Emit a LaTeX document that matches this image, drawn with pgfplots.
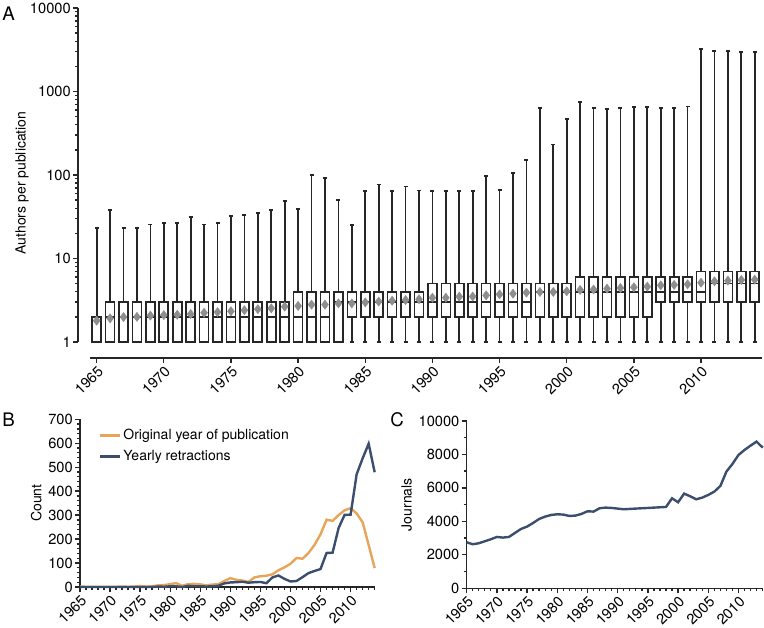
\documentclass[border=0pt]{standalone}
\usepackage{pgfplots}
\pgfplotsset{compat=1.18}
\usepgfplotslibrary{statistics}
\usepackage{fontspec}
\setmainfont{TeX Gyre Heros}
\definecolor{orig}{HTML}{E8A55A}
\definecolor{retr}{HTML}{3C4E6E}
\definecolor{ink}{HTML}{262626}
\definecolor{meangray}{HTML}{8E8E8E}
\pgfplotsset{
  every axis/.append style={
    scale only axis,
    tick align=outside,
    major tick length=3.75pt,
    minor tick length=2.2pt,
    tick style={ink, line width=1pt},
    tick label style={font=\fontsize{11}{13}\selectfont},
    label style={font=\fontsize{10.5}{12}\selectfont},
    /pgf/number format/assume math mode=true,
    /pgf/number format/1000 sep={},
    xticklabel style={rotate=45, anchor=north east, inner sep=1pt},
    yticklabel style={inner sep=1.5pt},
  },
  boxst/.style={draw=ink, fill=white, line width=1.25pt, solid,
    boxplot/draw direction=y, boxplot/box extend=0.67, boxplot/whisker extend=0.3},
}
\newcommand{\bx}[5]{\addplot[boxst, boxplot prepared={draw position=#1, lower whisker=1, lower quartile=#2, median=#3, upper quartile=#4, upper whisker=#5}] coordinates {};}
\begin{document}
\begin{tikzpicture}
\useasboundingbox (0,0) rectangle (573pt,471pt);
% ---------------- Panel A ----------------
\begin{axis}[
  at={(58.5pt,202.5pt)}, anchor=south west,
  width=513pt, height=262.5pt,
  ymode=log,
  xmin=1963.61, xmax=2014.54, ymin=0.643, ymax=10000,
  axis x line*=bottom, axis y line*=left, axis line style={draw=none},
  xtick={1965,1970,1975,1980,1985,1990,1995,2000,2005,2010},
  ytick={1,10,100,1000,10000},
  minor ytick={2,3,4,5,6,7,8,9,20,30,40,50,60,70,80,90,200,300,400,500,600,700,800,900,2000,3000,4000,5000,6000,7000,8000,9000},
  log ticks with fixed point,
  ylabel={Authors per publication},
  ylabel shift=-4pt,
  clip=false,
]
\bx{1965}{1}{2}{2}{23}
\bx{1966}{1}{2}{3}{38}
\bx{1967}{1}{2}{3}{23}
\bx{1968}{1}{2}{3}{23}
\bx{1969}{1}{2}{3}{25.5}
\bx{1970}{1}{2}{3}{26.5}
\bx{1971}{1}{2}{3}{26.5}
\bx{1972}{1}{2}{3}{31.5}
\bx{1973}{1}{2}{3}{25.5}
\bx{1974}{1}{2}{3}{26.5}
\bx{1975}{1}{2}{3}{32}
\bx{1976}{1}{2}{3}{33}
\bx{1977}{1}{2}{3}{35}
\bx{1978}{1}{2}{3}{38}
\bx{1979}{1}{2}{3}{49}
\bx{1980}{1}{2}{4}{39}
\bx{1981}{1}{2}{4}{100}
\bx{1982}{1}{2}{4}{92}
\bx{1983}{1}{3}{4}{50}
\bx{1984}{2}{3}{4}{25}
\bx{1985}{2}{3}{4}{64}
\bx{1986}{2}{3}{4}{77}
\bx{1987}{2}{3}{4}{64}
\bx{1988}{2}{3}{4}{73}
\bx{1989}{2}{3}{4}{65}
\bx{1990}{2}{3}{5}{64}
\bx{1991}{2}{3}{5}{64}
\bx{1992}{2}{3}{5}{64}
\bx{1993}{2}{3}{5}{64}
\bx{1994}{2}{3}{5}{98}
\bx{1995}{2}{3}{5}{66}
\bx{1996}{2}{3}{5}{105}
\bx{1997}{2}{3}{5}{150}
\bx{1998}{2}{4}{5}{637}
\bx{1999}{2}{4}{5}{231}
\bx{2000}{2}{4}{5}{470}
\bx{2001}{2}{4}{6}{752}
\bx{2002}{2}{4}{6}{631}
\bx{2003}{2}{4}{6}{620}
\bx{2004}{2}{4}{6}{631}
\bx{2005}{2}{4}{6}{655}
\bx{2006}{2}{4}{6}{648}
\bx{2007}{3}{4}{6}{637}
\bx{2008}{3}{4}{6}{631}
\bx{2009}{3}{4}{6}{661}
\bx{2010}{3}{4}{7}{3221}
\bx{2011}{3}{5}{7}{3076}
\bx{2012}{3}{5}{7}{3076}
\bx{2013}{3}{5}{7}{2992}
\bx{2014}{3}{5}{7}{2992}
\addplot[only marks, mark=diamond*, mark size=3.4pt, color=meangray] table {
x y
1965 1.8
1966 1.92
1967 1.99
1968 2.0
1969 2.07
1970 2.1
1971 2.12
1972 2.16
1973 2.24
1974 2.28
1975 2.33
1976 2.4
1977 2.47
1978 2.53
1979 2.65
1980 2.7
1981 2.8
1982 2.8
1983 2.9
1984 2.9
1985 2.98
1986 3.05
1987 3.12
1988 3.18
1989 3.25
1990 3.39
1991 3.39
1992 3.49
1993 3.5
1994 3.62
1995 3.72
1996 3.79
1997 3.9
1998 3.97
1999 3.97
2000 4.05
2001 4.2
2002 4.25
2003 4.35
2004 4.43
2005 4.52
2006 4.6
2007 4.77
2008 4.82
2009 4.91
2010 5.13
2011 5.33
2012 5.43
2013 5.53
2014 5.58
};
\draw[ink, line width=1.1pt] (rel axis cs:0,0.0457) -- (rel axis cs:0,1);
\draw[ink, line width=1.1pt] (rel axis cs:0.0175,0) -- (rel axis cs:1,0);
\end{axis}
% ---------------- Panel B ----------------
\begin{axis}[
  at={(60pt,30.75pt)}, anchor=south west,
  width=221pt, height=125.8pt,
  xmin=1965, xmax=2014, ymin=0, ymax=700,
  axis x line*=bottom, axis y line*=left, axis line style={-, ink, line width=1.1pt},
  xtick={1965,1970,1975,1980,1985,1990,1995,2000,2005,2010},
  minor xtick={1966,1967,...,2014},
  ytick={0,100,200,300,400,500,600,700}, minor y tick num=4,
  ylabel={Count},
  clip=false,
  legend style={at={(0.05,0.97)}, anchor=north west, draw=none, fill=none,
    font=\fontsize{10.5}{12}\selectfont, row sep=3.5pt, nodes={inner sep=1.5pt}},
  legend cell align=left,
  legend image code/.code={\draw[#1] (0pt,0pt) -- (15pt,0pt);},
]
\addplot[orig, line width=1.8pt] table {
x y
1965 2
1966 1
1967 1
1968 1
1969 1
1970 1
1971 1
1972 2
1973 1
1974 2
1975 4
1976 2
1977 3
1978 7
1979 8
1980 12
1981 16
1982 5
1983 12
1984 13
1985 11
1986 7
1987 10
1988 12
1989 25
1990 37
1991 30
1992 27
1993 21
1994 40
1995 45
1996 47
1997 53
1998 70
1999 82
2000 97
2001 121
2002 118
2003 142
2004 176
2005 220
2006 281
2007 276
2008 300
2009 320
2010 329
2011 307
2012 270
2013 175
2014 79
};
\addlegendentry{Original year of publication}
\addplot[retr, line width=1.8pt] table {
x y
1965 0
1966 0
1967 0
1968 0
1969 0
1970 0
1971 0
1972 0
1973 0
1974 0
1975 0
1976 0
1977 0
1978 2
1979 1
1980 3
1981 3
1982 0
1983 5
1984 3
1985 3
1986 2
1987 3
1988 5
1989 15
1990 19
1991 20
1992 22
1993 18
1994 20
1995 21
1996 16
1997 40
1998 48
1999 34
2000 23
2001 25
2002 41
2003 58
2004 67
2005 75
2006 142
2007 143
2008 246
2009 301
2010 302
2011 470
2012 537
2013 598
2014 479
};
\addlegendentry{Yearly retractions}
\end{axis}
% ---------------- Panel C ----------------
\begin{axis}[
  at={(350pt,29.8pt)}, anchor=south west,
  width=222pt, height=125.5pt,
  xmin=1965, xmax=2014, ymin=0, ymax=10000,
  axis x line*=bottom, axis y line*=left, axis line style={-, ink, line width=1.1pt},
  xtick={1965,1970,1975,1980,1985,1990,1995,2000,2005,2010},
  minor xtick={1966,1967,...,2014},
  ytick={0,2000,4000,6000,8000,10000}, minor y tick num=1,
  scaled y ticks=false,
  ylabel={Journals},
  clip=false,
]
\addplot[retr, line width=1.8pt] table {
x y
1965 2749
1966 2630
1967 2690
1968 2809
1969 2928
1970 3068
1971 3028
1972 3068
1973 3307
1974 3546
1975 3685
1976 3904
1977 4143
1978 4283
1979 4382
1980 4422
1981 4402
1982 4322
1983 4343
1984 4442
1985 4601
1986 4582
1987 4781
1988 4820
1989 4800
1990 4761
1991 4721
1992 4741
1993 4761
1994 4781
1995 4800
1996 4820
1997 4840
1998 4860
1999 5378
2000 5140
2001 5657
2002 5498
2003 5318
2004 5418
2005 5578
2006 5777
2007 6115
2008 6972
2009 7430
2010 7968
2011 8267
2012 8526
2013 8765
2014 8406
};
\end{axis}
% panel letters
\node[font=\fontsize{14}{16}\selectfont] at (6.4pt,461pt) {A};
\node[font=\fontsize{14}{16}\selectfont] at (6.4pt,156pt) {B};
\node[font=\fontsize{14}{16}\selectfont] at (297.75pt,156pt) {C};
\end{tikzpicture}
\end{document}
